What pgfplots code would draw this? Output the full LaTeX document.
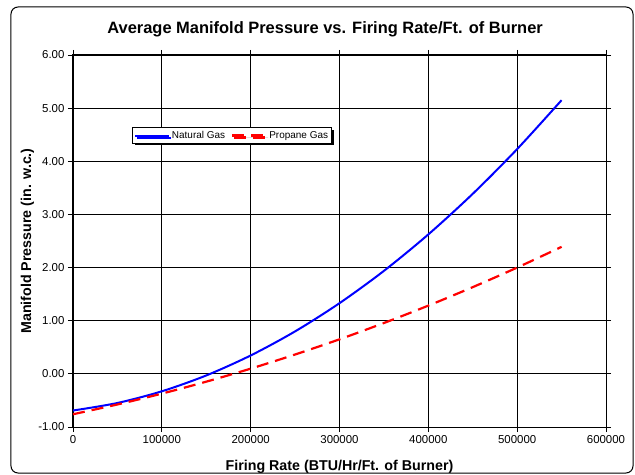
\documentclass[border=0pt]{standalone}
\usepackage{fontspec}
\setmainfont{Liberation Sans}
\usepackage{pgfplots}
\pgfplotsset{compat=1.18}
\usetikzlibrary{shadows}

\begin{document}
\begin{tikzpicture}
\begin{axis}[
    at={(0,0)}, anchor=south west,
    scale only axis,
    width=533bp, height=372bp,
    xmin=0, xmax=600000,
    ymin=-1, ymax=6,
    xtick={0,100000,200000,300000,400000,500000,600000},
    xticklabels={0,100000,200000,300000,400000,500000,600000},
    ytick={-1,0,1,2,3,4,5,6},
    yticklabels={-1.00,0.00,1.00,2.00,3.00,4.00,5.00,6.00},
    scaled x ticks=false,
    tick align=outside,
    major tick length=5bp,
    tick style={black, line width=0.8bp},
    grid=major,
    major grid style={black, line width=0.8bp},
    axis line style={black, line width=1bp},
    ticklabel style={font=\fontsize{11.5}{13}\selectfont},
    title={\textbf{Average Manifold Pressure vs. Firing Rate/Ft. of Burner}},
    title style={font=\fontsize{16.5}{18}\selectfont, at={(axis description cs:0.473,1.043)}, anchor=base},
    xlabel={\textbf{Firing Rate (BTU/Hr/Ft. of Burner)}},
    xlabel style={font=\fontsize{14.3}{16}\selectfont, at={(axis description cs:0.5,-0.1156)}, anchor=base},
    ylabel={\textbf{Manifold Pressure (in. w.c.)}},
    ylabel style={font=\fontsize{14.3}{16}\selectfont, at={(axis description cs:-0.0788,0.5)}, anchor=base},
    legend columns=2,
    legend style={
        at={(axis description cs:0.1107,0.806)}, anchor=north west,
        draw=black, line width=1bp, fill=white,
        drop shadow={shadow xshift=2bp, shadow yshift=-2bp, fill=black, opacity=1},
        font=\fontsize{10}{12}\selectfont,
        inner sep=1.5bp,
        /tikz/every even column/.append style={column sep=4bp},
    },
    legend image code/.code={\draw[#1] (2bp,0bp) -- (36bp,0bp);},
]
\addplot[blue, line width=2bp, smooth] coordinates {
    (0,-0.690) (50000,-0.548) (100000,-0.328) (150000,-0.030)
    (200000,0.346) (250000,0.799) (300000,1.330) (350000,1.938)
    (400000,2.624) (450000,3.388) (500000,4.230) (550000,5.150)
};
\addlegendentry{Natural Gas}
\addplot[red, line width=2.2bp, smooth, dash pattern=on 12bp off 7bp] coordinates {
    (0,-0.760) (50000,-0.576) (100000,-0.372) (150000,-0.147)
    (200000,0.098) (250000,0.364) (300000,0.650) (350000,0.957)
    (400000,1.284) (450000,1.632) (500000,2.000) (550000,2.390)
};
\addlegendentry{Propane Gas}
\end{axis}
\draw[black, line width=1bp, rounded corners=7bp] (-62bp,-46bp) rectangle (560bp,420bp);
\pgfresetboundingbox
\useasboundingbox (-73bp,-48bp) rectangle (562bp,427bp);
\end{tikzpicture}
\end{document}
